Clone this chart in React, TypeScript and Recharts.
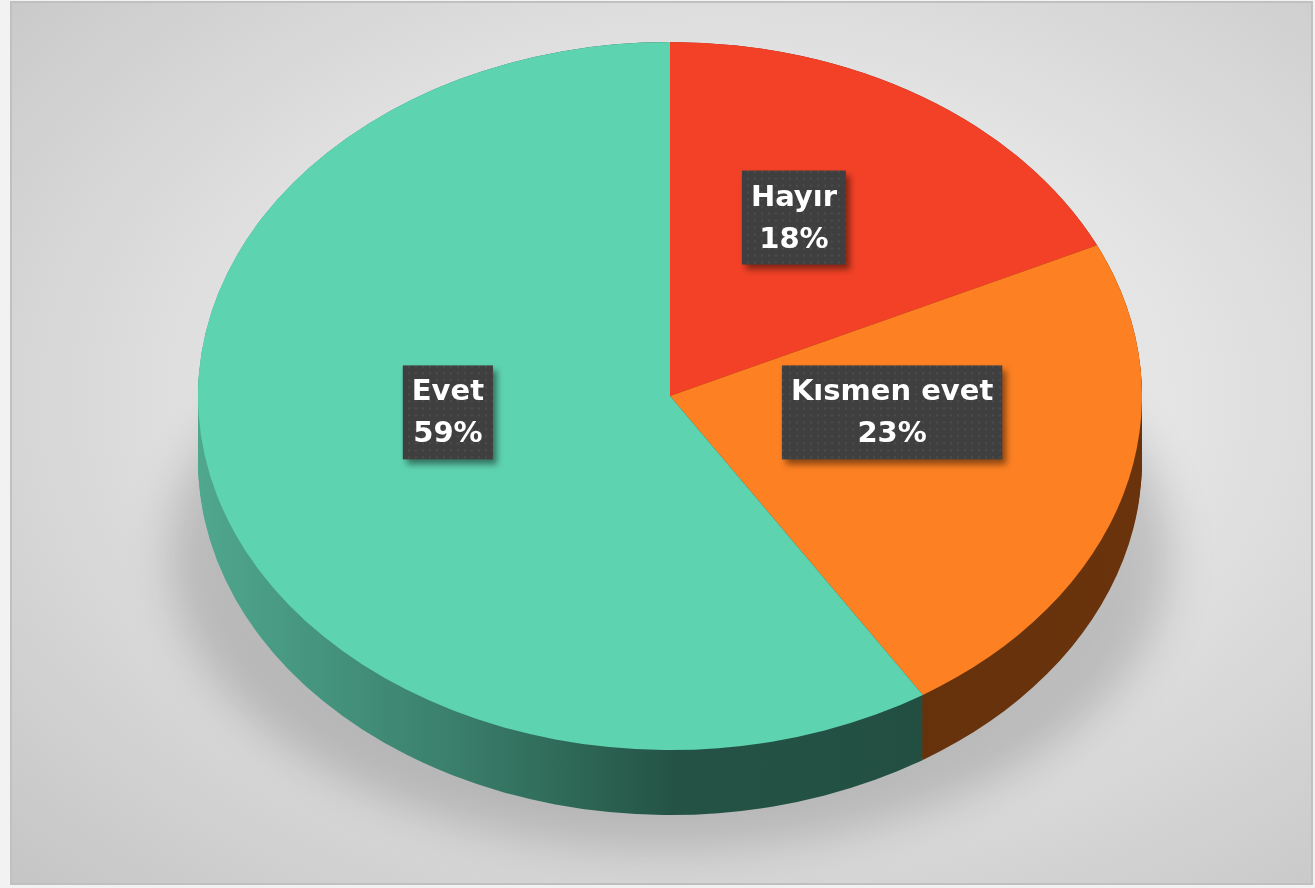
import { PieChart, Pie, Cell } from 'recharts';

// ── Data ─────────────────────────────────────────────────────────────────────
const CATEGORIES = ['Hayır', 'Kısmen evet', 'Evet'];
const VALUES = [18, 23, 59];
const TOP_COLORS = ['#f24126', '#fd8022', '#5ed3b0'];
const SIDE_COLORS = ['#8a2414', 'url(#sideOrange)', 'url(#sideTeal)'];

const data = CATEGORIES.map((name, i) => ({ name, value: VALUES[i] }));

// ── Layout ───────────────────────────────────────────────────────────────────
const W = 1315;
const H = 888;
const TILT = 0.75; // vertical squash of the pie disc
const CX = 665; // chart margin (5px) is added by recharts
const CY = 396 / TILT - 5;
const R = 472;
const DEPTH = 65 / TILT;
const LAYERS = Array.from({ length: 30 }, (_, i) => DEPTH - (i * DEPTH) / 29);
const FONT = '"DejaVu Sans", sans-serif';
const FONT_SIZE = 29;

let ctx: CanvasRenderingContext2D | null = null;
function textWidth(s: string) {
  if (!ctx) ctx = document.createElement('canvas').getContext('2d');
  if (!ctx) return s.length * FONT_SIZE * 0.62;
  ctx.font = `bold ${FONT_SIZE}px ${FONT}`;
  return ctx.measureText(s).width;
}

function renderLabel(props: any) {
  const { cx, cy, midAngle, outerRadius, index } = props;
  const rad = (-midAngle * Math.PI) / 180;
  const r = outerRadius * 0.49;
  const x = cx + r * Math.cos(rad);
  const y = cy + r * Math.sin(rad) - 32 / TILT;
  const lines = [CATEGORIES[index], `${VALUES[index]}%`];
  const w = Math.max(...lines.map(textWidth)) + 18;
  const h = 94;
  return (
    <g transform={`translate(${x},${y}) scale(1,${1 / TILT})`}>
      <rect x={-w / 2 + 4} y={-h / 2 + 5} width={w} height={h} fill="rgba(0,0,0,0.45)" filter="url(#lblShadow)" />
      <rect x={-w / 2} y={-h / 2} width={w} height={h} fill="url(#dots)" />
      {lines.map((t, i) => (
        <text
          key={i}
          x={0}
          y={-h / 2 + 35 + i * 42}
          textAnchor="middle"
          fill="#ffffff"
          fontFamily={FONT}
          fontWeight="bold"
          fontSize={FONT_SIZE}
        >
          {t}
        </text>
      ))}
    </g>
  );
}

export default function App() {
  return (
    <div style={{ position: 'absolute', left: 0, top: 0, width: W, height: H, background: '#f2f2f2', overflow: 'hidden' }}>
      <div
        style={{
          position: 'absolute',
          left: 10,
          top: 1,
          width: W - 12,
          height: H - 4,
          border: '2px solid #c0c0c0',
          boxSizing: 'border-box',
          background: 'radial-gradient(ellipse at 55% 45%, #f0f0f0 0%, #e4e4e4 45%, #c5c5c5 100%)',
        }}
      />
      {/* soft shadow under the disc */}
      <div
        style={{
          position: 'absolute',
          left: 170,
          top: 260,
          width: 1000,
          height: 590,
          borderRadius: '50%',
          background: 'rgba(0,0,0,0.16)',
          filter: 'blur(22px)',
        }}
      />
      <div style={{ position: 'absolute', left: 0, top: 0, transform: `scaleY(${TILT})`, transformOrigin: '0 0' }}>
        <PieChart width={W} height={H / TILT}>
          <defs>
            <linearGradient id="sideTeal" x1="200" y1="0" x2="930" y2="0" gradientUnits="userSpaceOnUse">
              <stop offset="0%" stopColor="#4fa78d" />
              <stop offset="35%" stopColor="#3a7f6b" />
              <stop offset="65%" stopColor="#245345" />
              <stop offset="100%" stopColor="#224f42" />
            </linearGradient>
            <linearGradient id="sideOrange" x1="930" y1="0" x2="1143" y2="0" gradientUnits="userSpaceOnUse">
              <stop offset="0%" stopColor="#66320c" />
              <stop offset="100%" stopColor="#6a330c" />
            </linearGradient>
            <pattern id="dots" width="7" height="7" patternUnits="userSpaceOnUse">
              <rect width="7" height="7" fill="#3f3f3f" />
              <rect x="2" y="2" width="2" height="2" fill="#4c4c4c" />
            </pattern>
            <filter id="lblShadow" x="-20%" y="-20%" width="140%" height="140%">
              <feGaussianBlur stdDeviation="3" />
            </filter>
          </defs>
          {LAYERS.map((off) => (
            <Pie
              key={`side-${off}`}
              data={data}
              dataKey="value"
              cx={CX}
              cy={CY + off}
              outerRadius={R}
              startAngle={90}
              endAngle={-270}
              stroke="none"
              isAnimationActive={false}
            >
              {data.map((_, i) => (
                <Cell key={i} fill={SIDE_COLORS[i]} stroke="none" />
              ))}
            </Pie>
          ))}
          <Pie
            data={data}
            dataKey="value"
            cx={CX}
            cy={CY}
            outerRadius={R}
            startAngle={90}
            endAngle={-270}
            stroke="none"
            labelLine={false}
            label={renderLabel}
            isAnimationActive={false}
          >
            {data.map((_, i) => (
              <Cell key={i} fill={TOP_COLORS[i]} stroke="none" />
            ))}
          </Pie>
        </PieChart>
      </div>
    </div>
  );
}
